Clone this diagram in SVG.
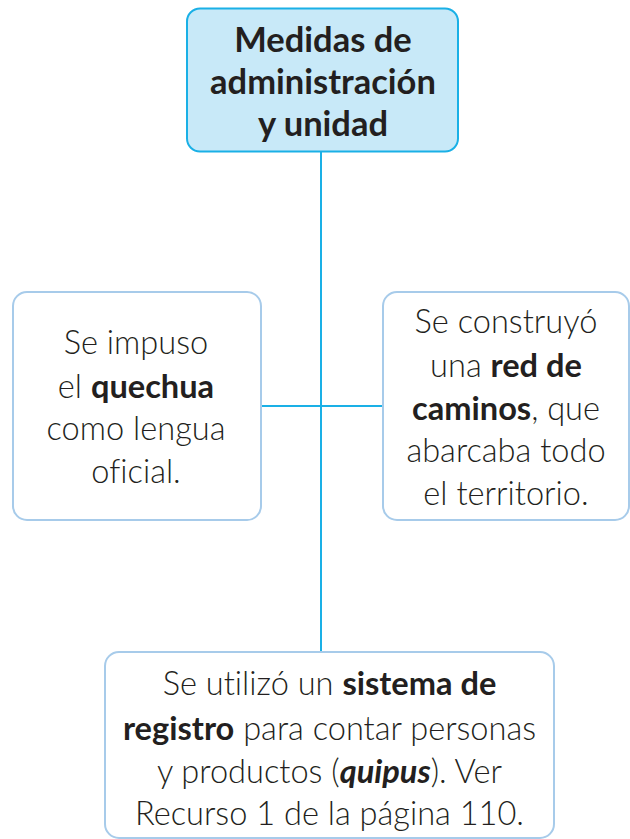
<svg xmlns="http://www.w3.org/2000/svg" width="630" height="839" viewBox="0 0 630 839">
<style>
.t{font-family:Lato,"Open Sans","Liberation Sans",sans-serif;font-size:32.6px;fill:#231f20;text-anchor:middle;font-weight:300;font-variant-ligatures:none}
.b{font-weight:700}
.h{font-family:Lato,"Open Sans","Liberation Sans",sans-serif;font-size:34.5px;fill:#231f20;text-anchor:middle;font-weight:700;font-variant-ligatures:none}
.box{fill:#ffffff;stroke:#a7cbea;stroke-width:2}
.line{stroke:#1ab0e6;stroke-width:2;fill:none}
</style>
<rect width="630" height="839" fill="#ffffff"/>
<g id="connectors">
<line class="line" x1="321" y1="152" x2="321" y2="652"/>
<line class="line" x1="261" y1="406" x2="383" y2="406"/>
</g>
<g id="top">
<rect x="187" y="8.5" width="271" height="143" rx="13" fill="#c8e9f8" stroke="#1ab0e6" stroke-width="2"/>
<text class="h" x="323" y="52">Medidas de</text>
<text class="h" x="323" y="94">administración</text>
<text class="h" x="323" y="136">y unidad</text>
</g>
<g id="left">
<rect class="box" x="13" y="292" width="248" height="228" rx="14"/>
<text class="t" x="136" y="354">Se impuso</text>
<text class="t" x="136" y="398">el <tspan class="b">quechua</tspan></text>
<text class="t" x="136" y="440">como lengua</text>
<text class="t" x="136" y="483">oficial.</text>
</g>
<g id="right">
<rect class="box" x="383" y="292" width="246" height="228" rx="14"/>
<text class="t" x="506" y="333">Se construyó</text>
<text class="t" x="506" y="377">una <tspan class="b">red de</tspan></text>
<text class="t" x="506" y="420"><tspan class="b">caminos</tspan>, que</text>
<text class="t" x="506" y="462">abarcaba todo</text>
<text class="t" x="506" y="505">el territorio.</text>
</g>
<g id="bottom">
<rect class="box" x="105" y="652" width="449" height="186" rx="14" stroke="#7fb0dc"/>
<text class="t" x="329.5" y="695">Se utilizó un <tspan class="b">sistema de</tspan></text>
<text class="t" x="329.5" y="740"><tspan class="b">registro</tspan> para contar personas</text>
<text class="t" x="329.5" y="783">y productos (<tspan class="b" font-style="italic">quipus</tspan>). Ver</text>
<text class="t" x="329.5" y="825">Recurso 1 de la página 110.</text>
</g>
</svg>
